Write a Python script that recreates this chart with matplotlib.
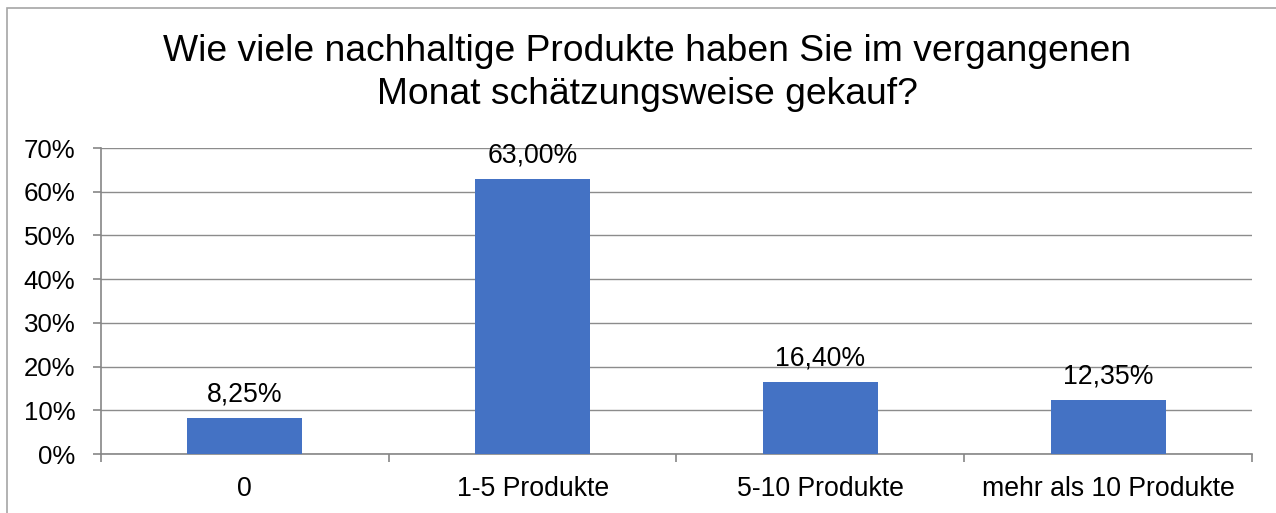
import matplotlib
matplotlib.use("Agg")
import matplotlib.pyplot as plt
from matplotlib.patches import Rectangle
from matplotlib.ticker import FixedLocator

categories = ["0", "1-5 Produkte", "5-10 Produkte", "mehr als 10 Produkte"]
values = [8.25, 63.00, 16.40, 12.35]
value_labels = ["8,25%", "63,00%", "16,40%", "12,35%"]
yticks = [0, 10, 20, 30, 40, 50, 60, 70]
ytick_labels = ["0%", "10%", "20%", "30%", "40%", "50%", "60%", "70%"]
title = "Wie viele nachhaltige Produkte haben Sie im vergangenen\nMonat schätzungsweise gekauf?"

plt.rcParams['font.family'] = ['Liberation Sans', 'DejaVu Sans']

W, H = 1276, 513
fig = plt.figure(figsize=(W / 100, H / 100), dpi=100)
fig.patch.set_facecolor("white")

# outer chart border (left and top visible)
fig.add_artist(Rectangle((7 / W, -0.1), 1.2, (H - 8) / H + 0.1, transform=fig.transFigure,
                         fill=False, edgecolor="#A6A6A6", linewidth=1.2))

ax = fig.add_axes([101 / W, 1 - 454 / H, (1252 - 101) / W, (454 - 148) / H])
x = list(range(len(categories)))
ax.bar(x, values, width=0.4, color="#4472C4", zorder=3)
for xi, v, lab in zip(x, values, value_labels):
    ax.text(xi, v + 2.4, lab, ha="center", va="bottom", fontsize=19.2, color="#000000")

ax.set_xlim(-0.5, len(categories) - 0.5)
ax.set_ylim(0, 70)
ax.set_yticks(yticks)
ax.set_yticklabels(ytick_labels, fontsize=18.6)
ax.set_xticks(x)
ax.set_xticklabels(categories, fontsize=19.2)
ax.xaxis.set_minor_locator(FixedLocator([i - 0.5 for i in range(len(categories) + 1)]))
ax.tick_params(axis="x", which="major", length=0, pad=16)
ax.tick_params(axis="x", which="minor", length=6, color="#868686", width=1.2)
ax.tick_params(axis="y", length=6, color="#868686", width=1.2, pad=12.5)

ax.grid(axis="y", color="#8C8C8C", linewidth=1.0, zorder=0)
for s in ["top", "right"]:
    ax.spines[s].set_visible(False)
for s in ["left", "bottom"]:
    ax.spines[s].set_color("#868686")
    ax.spines[s].set_linewidth(1.2)

fig.text(647 / W, 1 - 73 / H, title, ha="center", va="center", fontsize=26.8, linespacing=1.27)

fig.savefig("out.png", dpi=100)
